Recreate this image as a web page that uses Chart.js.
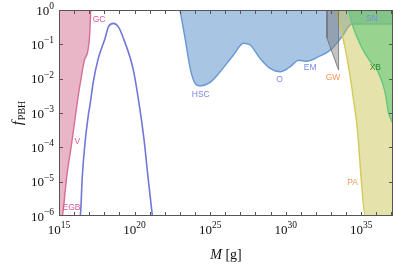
<!DOCTYPE html>
<html>
<head>
<meta charset="utf-8">
<script src="https://cdn.jsdelivr.net/npm/chart.js@4.4.1/dist/chart.umd.min.js"></script>
<style>
  html, body { margin: 0; padding: 0; background: #fff; }
  #wrap { width: 395px; height: 266px; }
</style>
</head>
<body>
<div id="wrap"><canvas id="mainChart" width="395" height="266"></canvas></div>
<script>
// === Values, as log10(M [g]) and log10(f_PBH) ===
const egbLogM = [15.0, 15.22, 15.28, 15.51, 15.84, 16.11, 16.28, 16.50, 16.68, 16.90, 17.03, 17.10];
const egbLogF = [-6, -6, -5.83, -4.86, -3.88, -3.01, -2.48, -1.89, -1.46, -1.21, -0.73, 0];

const evapLogM = [16.41, 16.44, 16.54, 16.72, 16.94, 17.05, 17.27, 17.60, 18.05, 18.27, 18.60, 18.93, 19.26, 19.92, 20.36, 20.63, 20.91, 21.18];
const evapLogF = [-6, -5.83, -4.86, -3.88, -3.06, -2.77, -2.09, -1.41, -0.82, -0.49, -0.39, -0.49, -0.82, -1.75, -2.91, -3.79, -4.95, -6];

const lensLogM = [23.01, 23.34, 23.68, 24.01, 24.34, 25.0, 25.66, 26.54, 27.21, 27.65, 28.31, 28.97, 29.64, 30.30, 30.85, 31.40, 32.17, 32.95, 33.72, 34.38, 37.1];
const lensLogF = [0, -0.82, -1.70, -2.14, -2.21, -2.11, -1.80, -1.31, -0.97, -1.02, -1.41, -1.70, -1.80, -1.65, -1.46, -1.49, -1.36, -1.17, -0.78, -0.41, -0.41];

const gwLogM = [32.73, 32.73, 33.50, 33.50];
const gwLogF = [0, -0.82, -1.75, 0];

const paLogM = [33.28, 33.72, 34.16, 34.49, 34.75, 35.0, 35.26, 37.1];
const paLogF = [0, -0.68, -1.65, -2.62, -3.50, -4.95, -6, -6];

const xbLogM = [34.16, 34.38, 34.93, 35.60, 35.93, 36.30, 36.59, 36.81, 37.1];
const xbLogF = [0, -0.39, -1.0, -1.5, -1.65, -2.0, -2.43, -3.01, -3.3];

const xTickExps = [15, 20, 25, 30, 35];
const yTickExps = [0, -1, -2, -3, -4, -5, -6];

// region names, their colours and where they sit (log10 M, log10 f)
const tagNames = ["GC", "V", "EGB", "HSC", "O", "EM", "GW", "SN", "XB", "PA"];
const tagLogM = [17.65, 16.21, 15.83, 24.38, 29.59, 31.62, 33.13, 35.71, 35.93, 34.42];
const tagLogF = [-0.29, -3.84, -5.77, -2.46, -2.03, -1.68, -1.97, -0.26, -1.67, -5.03];
const tagColors = ["#d4579a", "#d4579a", "#d4579a", "#7c88e2", "#7c88e2", "#7c88e2", "#f0985a", "#7c88e2", "#2f8a35", "#f0985a"];

const toPoints = (ms, fs) => ms.map((m, i) => ({ x: 10 ** m, y: 10 ** fs[i] }));

const SERIF = "'Liberation Serif', 'DejaVu Serif', serif";

function drawPower(ctx, exp, x, y, align) {
  const expText = exp < 0 ? "\u2212" + (-exp) : String(exp);
  ctx.font = "13px " + SERIF;
  const w1 = ctx.measureText("10").width;
  ctx.font = "9.5px " + SERIF;
  const w2 = ctx.measureText(expText).width;
  let start = x - (w1 + w2) / 2;
  if (align === "right") start = x - (w1 + w2);
  ctx.font = "13px " + SERIF;
  ctx.fillText("10", start, y);
  ctx.font = "9.5px " + SERIF;
  ctx.fillText(expText, start + w1, y - 5.5);
}

// === frame, inward ticks, tick labels, titles and region names ===
const decorations = {
  id: "decorations",
  afterDatasetsDraw(chart) {
    const { ctx, chartArea: a, scales: { x, y } } = chart;
    ctx.save();
    ctx.strokeStyle = "#555";
    ctx.lineWidth = 1;
    ctx.strokeRect(a.left + 0.5, a.top + 0.5, a.right - a.left - 1, a.bottom - a.top - 1);

    ctx.beginPath();
    for (let e = 16; e <= 37; e++) {
      const px = Math.round(x.getPixelForValue(10 ** e)) + 0.5;
      ctx.moveTo(px, a.bottom); ctx.lineTo(px, a.bottom - 4);
      ctx.moveTo(px, a.top); ctx.lineTo(px, a.top + 4);
    }
    for (let e = -5; e <= -1; e++) {
      const py = Math.round(y.getPixelForValue(10 ** e)) + 0.5;
      ctx.moveTo(a.left, py); ctx.lineTo(a.left + 4, py);
      ctx.moveTo(a.right, py); ctx.lineTo(a.right - 4, py);
    }
    ctx.stroke();

    ctx.fillStyle = "#111";
    ctx.textAlign = "left";
    ctx.textBaseline = "alphabetic";
    xTickExps.forEach(e => drawPower(ctx, e, x.getPixelForValue(10 ** e), a.bottom + 17.5, "center"));
    yTickExps.forEach(e => drawPower(ctx, e, a.left - 5, y.getPixelForValue(10 ** e) + 4.5, "right"));

    // x title: M [g]
    ctx.font = "italic 14px " + SERIF;
    const wm = ctx.measureText("M").width;
    ctx.font = "14px " + SERIF;
    const wg = ctx.measureText(" [g]").width;
    const cx = (a.left + a.right) / 2 - (wm + wg) / 2;
    ctx.font = "italic 14px " + SERIF;
    ctx.fillText("M", cx, 259);
    ctx.font = "14px " + SERIF;
    ctx.fillText(" [g]", cx + wm, 259);

    // y title: f_PBH
    ctx.save();
    ctx.translate(22, (a.top + a.bottom) / 2);
    ctx.rotate(-Math.PI / 2);
    ctx.font = "italic 15px " + SERIF;
    const wf = ctx.measureText("f").width;
    ctx.font = "10px " + SERIF;
    const wp = ctx.measureText("PBH").width;
    const sx = -(wf + 1 + wp) / 2;
    ctx.font = "italic 15px " + SERIF;
    ctx.fillText("f", sx, 0);
    ctx.font = "10px " + SERIF;
    ctx.fillText("PBH", sx + wf + 1, 3);
    ctx.restore();

    // region names
    ctx.font = "8.5px 'Liberation Sans', Arial, sans-serif";
    ctx.textAlign = "center";
    ctx.textBaseline = "middle";
    tagNames.forEach((name, i) => {
      ctx.fillStyle = tagColors[i];
      ctx.fillText(name, x.getPixelForValue(10 ** tagLogM[i]), y.getPixelForValue(10 ** tagLogF[i]));
    });
    ctx.restore();
  }
};

const ctx = document.getElementById("mainChart");
new Chart(ctx.getContext("2d"), {
  type: "scatter",
  data: {
    datasets: [
      {
        label: "evaporation",
        data: toPoints(evapLogM, evapLogF),
        showLine: true, fill: false,
        borderColor: "#7078d8", borderWidth: 1.6,
        cubicInterpolationMode: "monotone"
      },
      {
        label: "GW",
        data: toPoints(gwLogM, gwLogF),
        showLine: true, fill: "end",
        borderColor: "rgba(110,110,110,0.8)", borderWidth: 1,
        backgroundColor: "rgba(120,120,120,0.45)"
      },
      {
        label: "XB",
        data: toPoints(xbLogM, xbLogF),
        showLine: true, fill: "end",
        borderColor: "rgb(100,200,125)", borderWidth: 1.4,
        backgroundColor: "rgba(90,200,120,0.55)",
        cubicInterpolationMode: "monotone"
      },
      {
        label: "PA",
        data: toPoints(paLogM, paLogF),
        showLine: true, fill: "end",
        borderColor: "rgb(212,202,90)", borderWidth: 1.4,
        backgroundColor: "rgba(200,190,70,0.45)",
        cubicInterpolationMode: "monotone"
      },
      {
        label: "lensing",
        data: toPoints(lensLogM, lensLogF),
        showLine: true, fill: "end",
        borderColor: "rgb(105,155,210)", borderWidth: 1.5,
        backgroundColor: "rgba(110,160,210,0.6)",
        cubicInterpolationMode: "monotone"
      },
      {
        label: "EGB",
        data: toPoints(egbLogM, egbLogF),
        showLine: true, fill: "end",
        borderColor: "rgb(214,110,152)", borderWidth: 1.4,
        backgroundColor: "rgba(200,80,120,0.42)",
        cubicInterpolationMode: "monotone"
      }
    ]
  },
  options: {
    responsive: false,
    animation: false,
    devicePixelRatio: 1,
    layout: { padding: { left: 59, right: 2, top: 10, bottom: 50 } },
    elements: { point: { radius: 0, hoverRadius: 0 } },
    plugins: { legend: { display: false }, tooltip: { enabled: false } },
    scales: {
      x: { type: "logarithmic", min: 1e15, max: 10 ** 37.1, display: false },
      y: { type: "logarithmic", min: 1e-6, max: 1, display: false }
    }
  },
  plugins: [decorations]
});
</script>
</body>
</html>
